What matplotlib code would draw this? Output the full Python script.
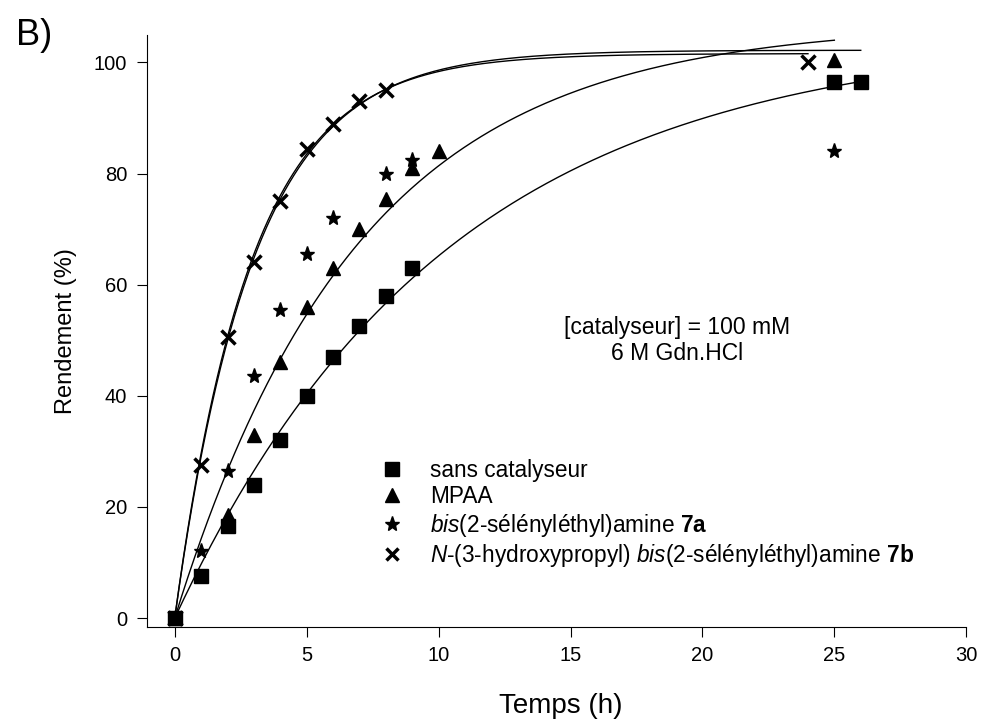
import numpy as np
import matplotlib.pyplot as plt
from matplotlib.lines import Line2D

plt.rcParams['font.family'] = ['Liberation Sans', 'DejaVu Sans']
plt.rcParams['mathtext.fontset'] = 'custom'
plt.rcParams['mathtext.rm'] = 'Liberation Sans'
plt.rcParams['mathtext.it'] = 'Liberation Sans:italic'
plt.rcParams['mathtext.bf'] = 'Liberation Sans:bold'

# Donnees
t_sans = [0, 1, 2, 3, 4, 5, 6, 7, 8, 9, 25, 26]
y_sans = [0, 7.5, 16.5, 24, 32, 40, 47, 52.5, 58, 63, 96.5, 96.5]

t_mpaa = [0, 2, 3, 4, 5, 6, 7, 8, 9, 10, 25]
y_mpaa = [0, 18.5, 33, 46, 56, 63, 70, 75.5, 81, 84, 100.5]

t_7a = [0, 1, 2, 3, 4, 5, 6, 8, 9, 25]
y_7a = [0, 12, 26.5, 43.5, 55.5, 65.5, 72, 80, 82.5, 84]

t_7b = [0, 1, 2, 3, 4, 5, 6, 7, 8, 24]
y_7b = [0, 27.5, 50.5, 64, 75, 84.5, 89, 93, 95, 100]

# Parametres des ajustements y = a(1 - exp(-b t)), estimes sur la figure
fits = [
    (105.0, 0.097, 26),   # sans catalyseur
    (107.0, 0.143, 25),   # MPAA
    (101.6, 0.345, 24),   # 7b
    (102.2, 0.335, 26),   # 7b (second trace)
]

fig = plt.figure(figsize=(9.85, 7.19), dpi=100)
ax = fig.add_axes([0.149, 0.128, 0.832, 0.823])

for a, b, tmax in fits:
    tt = np.linspace(0, tmax, 300)
    ax.plot(tt, a * (1 - np.exp(-b * tt)), color='black', lw=1)

ax.plot(t_sans, y_sans, 's', color='black', ms=10, ls='none')
ax.plot(t_mpaa, y_mpaa, '^', color='black', ms=10, ls='none')
ax.plot(t_7a, y_7a, '*', color='black', ms=11, ls='none')
ax.plot(t_7b, y_7b, 'x', color='black', ms=10, mew=2.5, ls='none')

ax.set_xlim(-1.06, 30)
ax.set_ylim(-1.6, 104.9)
ax.set_xticks(range(0, 31, 5))
ax.set_yticks(range(0, 101, 20))
ax.spines['top'].set_visible(False)
ax.spines['right'].set_visible(False)
ax.tick_params(direction='out', length=7, labelsize=14.5, pad=7)
ax.set_xlabel('Temps (h)', fontsize=20)
ax.xaxis.set_label_coords(0.505, -0.112)
ax.set_ylabel('Rendement (%)', fontsize=17, labelpad=12)

ax.text(19.04, 50.0, '[catalyseur] = 100 mM\n6 M Gdn.HCl', ha='center', va='center',
        fontsize=16.5, linespacing=1.15)

handles = [
    Line2D([], [], marker='s', color='black', ls='none', ms=10),
    Line2D([], [], marker='^', color='black', ls='none', ms=10),
    Line2D([], [], marker='*', color='black', ls='none', ms=11),
    Line2D([], [], marker='x', color='black', ls='none', ms=9, mew=2.5),
]
labels = [
    'sans catalyseur',
    'MPAA',
    r'$\mathit{bis(}$2-sélényléthyl)amine $\mathbf{7a}$',
    r'$\mathit{N}$-(3-hydroxypropyl) $\mathit{bis(}$2-sélényléthyl)amine $\mathbf{7b}$',
]
ax.legend(handles, labels, loc='upper left', bbox_to_anchor=(0.3868, 0.3616),
          bbox_transform=fig.transFigure, borderaxespad=0, borderpad=0,
          frameon=False, fontsize=16.3, handlelength=0.95, handletextpad=1.2,
          labelspacing=0.15)

fig.text(0.016, 0.975, 'B)', fontsize=26, va='top', ha='left')

fig.savefig('out.png', dpi=100)
